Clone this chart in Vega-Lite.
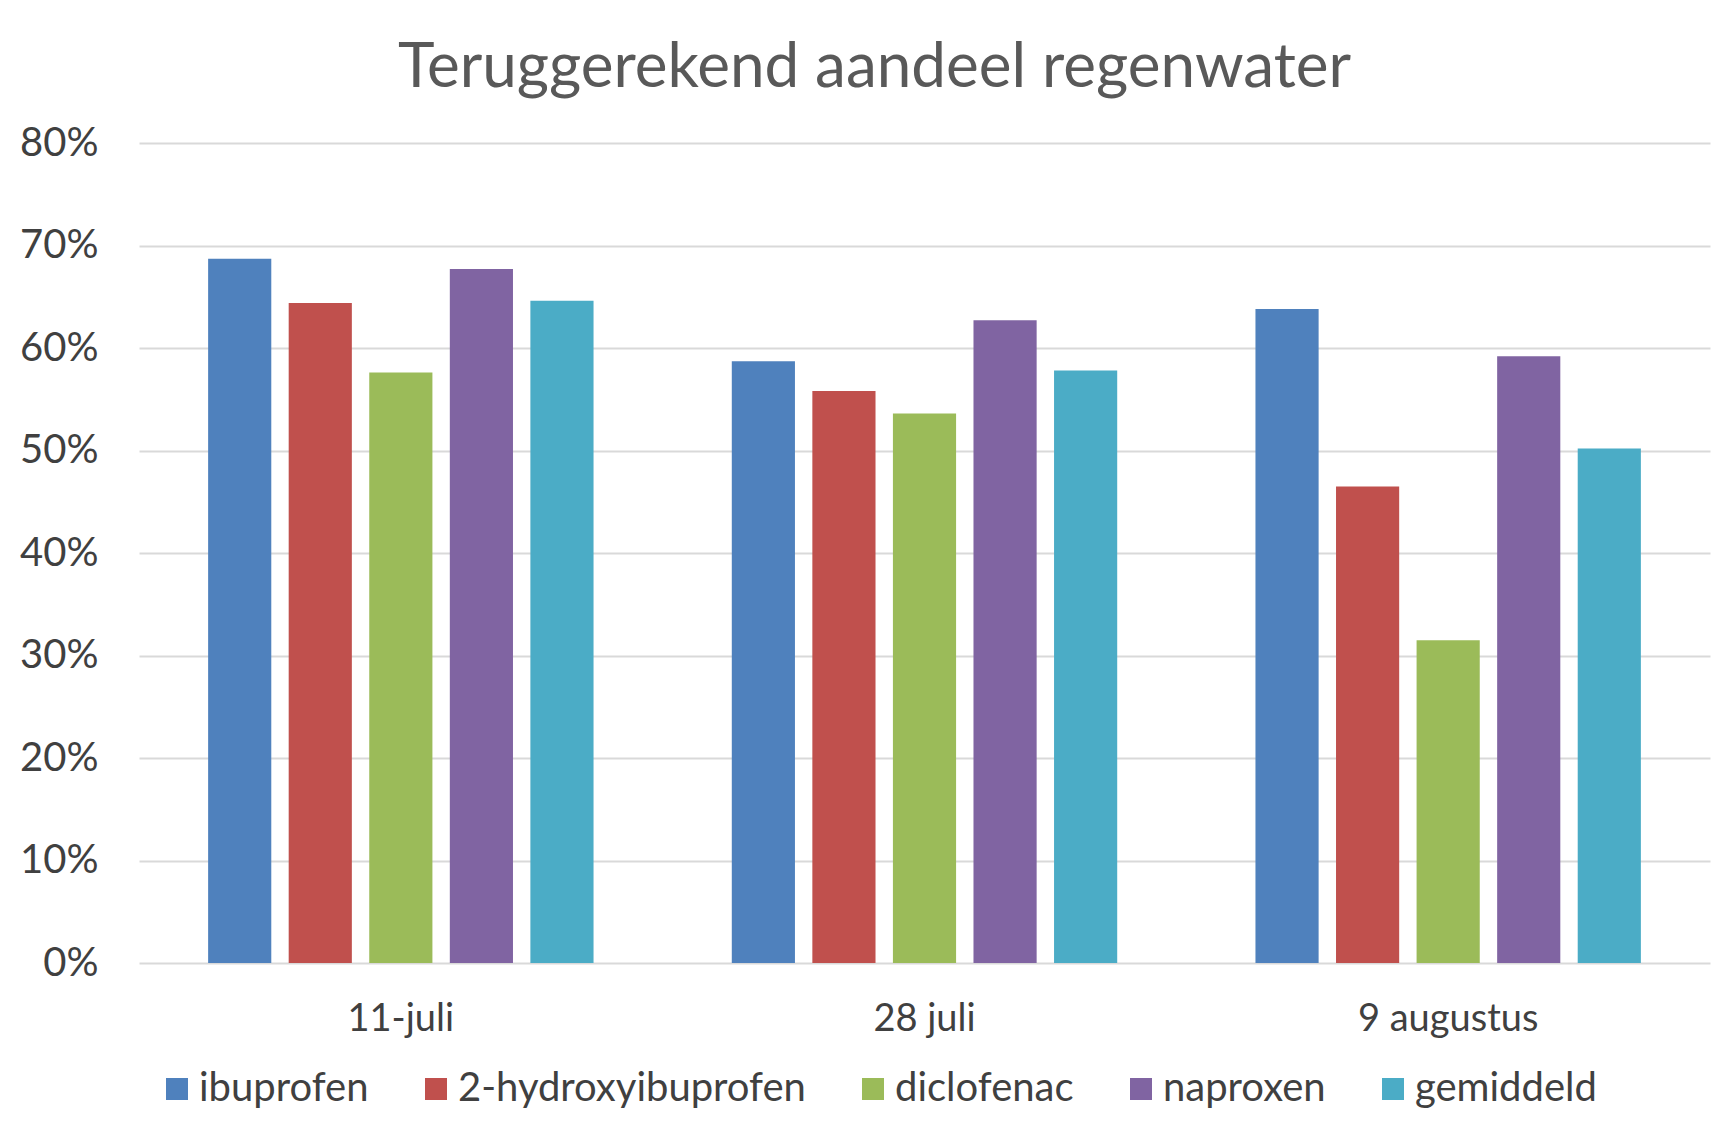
{
  "$schema": "https://vega.github.io/schema/vega-lite/v6.json",
  "width": 1571,
  "height": 820,
  "autosize": {"type": "none"},
  "padding": {"left": 139, "top": 143, "right": 3, "bottom": 166},
  "background": "white",
  "config": {"view": {"stroke": null}},
  "title": {
    "text": "Teruggerekend aandeel regenwater",
    "font": "Lato",
    "fontSize": 62,
    "fontWeight": "normal",
    "color": "#595959",
    "frame": "group",
    "anchor": "middle",
    "baseline": "alphabetic",
    "offset": 56,
    "dy": 82,
    "dx": -50
  },
  "data": {
    "values": [
      {"datum": "11-juli", "stof": "ibuprofen", "aandeel": 0.687},
      {"datum": "11-juli", "stof": "2-hydroxyibuprofen", "aandeel": 0.644},
      {"datum": "11-juli", "stof": "diclofenac", "aandeel": 0.576},
      {"datum": "11-juli", "stof": "naproxen", "aandeel": 0.677},
      {"datum": "11-juli", "stof": "gemiddeld", "aandeel": 0.646},
      {"datum": "28 juli", "stof": "ibuprofen", "aandeel": 0.587},
      {"datum": "28 juli", "stof": "2-hydroxyibuprofen", "aandeel": 0.558},
      {"datum": "28 juli", "stof": "diclofenac", "aandeel": 0.536},
      {"datum": "28 juli", "stof": "naproxen", "aandeel": 0.627},
      {"datum": "28 juli", "stof": "gemiddeld", "aandeel": 0.578},
      {"datum": "9 augustus", "stof": "ibuprofen", "aandeel": 0.638},
      {"datum": "9 augustus", "stof": "2-hydroxyibuprofen", "aandeel": 0.465},
      {"datum": "9 augustus", "stof": "diclofenac", "aandeel": 0.315},
      {"datum": "9 augustus", "stof": "naproxen", "aandeel": 0.592},
      {"datum": "9 augustus", "stof": "gemiddeld", "aandeel": 0.502}
    ]
  },
  "mark": {"type": "bar"},
  "encoding": {
    "x": {
      "field": "datum",
      "type": "nominal",
      "sort": null,
      "scale": {"paddingInner": 0.264, "paddingOuter": 0.132},
      "axis": {
        "title": null,
        "labelAngle": 0,
        "labelFont": "Lato",
        "labelFontSize": 38,
        "labelColor": "#404040",
        "labelPadding": 37,
        "labelLimit": 600,
        "ticks": false,
        "domain": false,
        "grid": false
      }
    },
    "xOffset": {
      "field": "stof",
      "type": "nominal",
      "sort": ["ibuprofen", "2-hydroxyibuprofen", "diclofenac", "naproxen", "gemiddeld"],
      "scale": {"paddingInner": 0.216, "paddingOuter": 0}
    },
    "y": {
      "field": "aandeel",
      "type": "quantitative",
      "scale": {"domain": [0, 0.8], "nice": false},
      "axis": {
        "title": null,
        "format": ".0%",
        "values": [0, 0.1, 0.2, 0.3, 0.4, 0.5, 0.6, 0.7, 0.8],
        "labelFont": "Lato",
        "labelFontSize": 40,
        "labelColor": "#404040",
        "labelPadding": 41,
        "ticks": false,
        "domain": false,
        "grid": true,
        "gridColor": "#D9D9D9",
        "gridWidth": 2
      }
    },
    "color": {
      "field": "stof",
      "type": "nominal",
      "scale": {
        "domain": ["ibuprofen", "2-hydroxyibuprofen", "diclofenac", "naproxen", "gemiddeld"],
        "range": ["#4F81BD", "#C0504D", "#9BBB59", "#8064A2", "#4BACC6"]
      },
      "legend": {
        "title": null,
        "orient": "none",
        "legendX": 18,
        "legendY": 926,
        "direction": "horizontal",
        "columns": 5,
        "symbolType": "square",
        "symbolSize": 484,
        "symbolStrokeWidth": 0,
        "labelFont": "Lato",
        "labelFontSize": 40,
        "labelColor": "#404040",
        "labelOffset": 2,
        "columnPadding": 47,
        "labelLimit": 600
      }
    }
  }
}
